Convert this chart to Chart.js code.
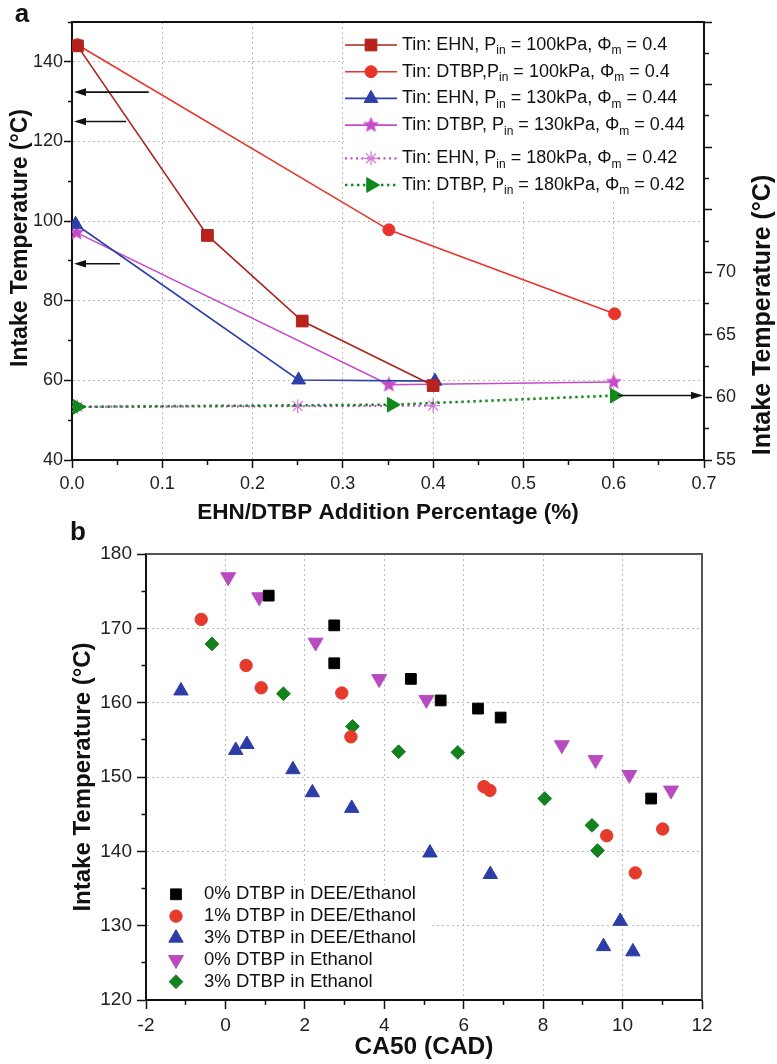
<!DOCTYPE html>
<html>
<head>
<meta charset="utf-8">
<title>Intake temperature</title>
<script src="https://cdn.jsdelivr.net/npm/chart.js@4.4.1/dist/chart.umd.min.js"></script>
<style>
  body { margin: 0; background: #fff; }
  canvas { position: absolute; left: 0; }
  #chartA { top: 0; }
  #chartB { top: 510px; }
</style>
</head>
<body>
<canvas id="chartA" width="777" height="530"></canvas>
<canvas id="chartB" width="777" height="554"></canvas>
<script>
// ---- panel a: intake temperature vs. additive percentage ----
const ehn100X = [0.006, 0.15, 0.255, 0.4];
const ehn100Y = [144, 96.4, 74.9, 58.7];
const dtbp100X = [0.006, 0.351, 0.601];
const dtbp100Y = [144.3, 97.8, 76.7];
const ehn130X = [0.004, 0.251, 0.402];
const ehn130Y = [99.2, 60.1, 59.8];
const dtbp130X = [0.005, 0.351, 0.6];
const dtbp130Y = [97.1, 58.9, 59.6];
// the 180 kPa series are read on the right axis
const ehn180X = [0.006, 0.25, 0.4];
const ehn180Y = [59.25, 59.3, 59.35];
const dtbp180X = [0.006, 0.354, 0.601];
const dtbp180Y = [59.25, 59.42, 60.15];

const legendA = [
  'Tin: EHN, P_{in} = 100kPa, Φ_{m} = 0.4',
  'Tin: DTBP,P_{in} = 100kPa, Φ_{m} = 0.4',
  'Tin: EHN, P_{in} = 130kPa, Φ_{m} = 0.44',
  'Tin: DTBP, P_{in} = 130kPa, Φ_{m} = 0.44',
  'Tin: EHN, P_{in} = 180kPa, Φ_{m} = 0.42',
  'Tin: DTBP, P_{in} = 180kPa, Φ_{m} = 0.42',
];

// arrows pointing at the axes (value on the axis, x where the tail starts)
const arrowsLeftY = [132.4, 125, 89.3];
const arrowsLeftTail = [0.085, 0.06, 0.053];
const arrowsRightY = [60.15];
const arrowsRightTail = [0.605];

// ---- panel b: intake temperature vs. CA50 ----
const dee0X = [1.09, 2.74, 2.74, 4.67, 5.42, 6.36, 6.93, 10.72];
const dee0Y = [174.4, 170.4, 165.3, 163.2, 160.3, 159.2, 158.0, 147.1];
const dee1X = [-0.61, 0.52, 0.90, 2.93, 3.16, 6.51, 6.66, 9.60, 11.01, 10.32];
const dee1Y = [171.2, 165.0, 162.0, 161.3, 155.4, 148.7, 148.2, 142.1, 143.0, 137.1];
const dee3X = [-1.12, 0.26, 0.54, 1.70, 2.19, 3.18, 5.15, 6.67, 9.94, 9.52, 10.26];
const dee3Y = [161.6, 153.6, 154.4, 151.0, 147.9, 145.8, 139.8, 136.9, 130.6, 127.2, 126.5];
const eth0X = [0.07, 0.85, 2.27, 3.87, 5.06, 8.47, 9.32, 10.17, 11.22];
const eth0Y = [176.9, 174.2, 168.1, 163.2, 160.4, 154.3, 152.3, 150.3, 148.2];
const eth3X = [-0.34, 1.46, 3.2, 4.36, 5.85, 8.04, 9.23, 9.37];
const eth3Y = [167.9, 161.2, 156.8, 153.4, 153.3, 147.1, 143.5, 140.1];

const legendB = [
  '0% DTBP in DEE/Ethanol',
  '1% DTBP in DEE/Ethanol',
  '3% DTBP in DEE/Ethanol',
  '0% DTBP in Ethanol',
  '3% DTBP in Ethanol',
];

const FONT = "'Liberation Sans', Arial, sans-serif";
const GRID = '#b8b8b8';
Chart.defaults.font.family = FONT;
Chart.defaults.color = '#222';
Chart.defaults.animation = false;

const pts = (xs, ys) => xs.map((x, i) => ({ x, y: ys[i] }));

// filled five point star used as a point image
function makeStar(size, color) {
  const c = document.createElement('canvas');
  c.width = c.height = size;
  const g = c.getContext('2d');
  const r = size / 2, ri = r * 0.45;
  g.beginPath();
  for (let i = 0; i < 10; i++) {
    const a = -Math.PI / 2 + i * Math.PI / 5;
    const rr = i % 2 ? ri : r;
    g.lineTo(r + rr * Math.cos(a), r + rr * Math.sin(a));
  }
  g.closePath();
  g.fillStyle = color;
  g.fill();
  return c;
}

// text with _{..} subscripts
function drawRichText(ctx, str, x, y, size) {
  const parts = str.split(/_\{([^}]*)\}/);
  parts.forEach((p, i) => {
    const sub = i % 2 === 1;
    ctx.font = (sub ? Math.round(size * 0.64) : size) + 'px ' + FONT;
    ctx.fillText(p, x, sub ? y + size * 0.34 : y);
    x += ctx.measureText(p).width;
  });
}

function drawTitle(ctx, text, x, y, rotate, size) {
  ctx.save();
  ctx.translate(x, y);
  if (rotate) ctx.rotate(-Math.PI / 2);
  ctx.font = 'bold ' + (size || 22) + 'px ' + FONT;
  ctx.fillStyle = '#111';
  ctx.textAlign = 'center';
  ctx.textBaseline = 'middle';
  ctx.fillText(text, 0, 0);
  ctx.restore();
}

function drawMarker(ctx, ds, x, y) {
  ctx.save();
  ctx.fillStyle = ds.pointBackgroundColor || ds.backgroundColor;
  ctx.strokeStyle = ds.pointBorderColor || ds.borderColor;
  ctx.lineWidth = ds.pointBorderWidth || 1;
  Chart.helpers.drawPoint(ctx, {
    pointStyle: ds.pointStyle,
    rotation: ds.pointRotation || 0,
    radius: ds.pointRadius,
    borderWidth: ds.pointBorderWidth || 1,
  }, x, y);
  ctx.restore();
}

function drawArrow(ctx, x0, x1, y) {
  const dir = Math.sign(x1 - x0);
  ctx.save();
  ctx.strokeStyle = '#111';
  ctx.fillStyle = '#111';
  ctx.lineWidth = 1.6;
  ctx.beginPath();
  ctx.moveTo(x0, y);
  ctx.lineTo(x1 - dir * 8, y);
  ctx.stroke();
  ctx.beginPath();
  ctx.moveTo(x1, y);
  ctx.lineTo(x1 - dir * 12, y - 3.8);
  ctx.lineTo(x1 - dir * 12, y + 3.8);
  ctx.closePath();
  ctx.fill();
  ctx.restore();
}

// minor ticks get half length through a dash pattern
const minorDashFromAxis = [4, 40];
const minorDashToAxis = [0, 4, 4, 40];

// ---------------- chart a ----------------
const magenta = '#c64bca';
const starImg = makeStar(17, magenta);

const panelA = {
  id: 'panelA',
  beforeDatasetsDraw(chart) {
    const { ctx, chartArea: a } = chart;
    // legend sits on a white box over the grid
    ctx.save();
    ctx.fillStyle = '#fff';
    ctx.fillRect(a.right - 360, a.top + 1, 358, 177);
    ctx.restore();
  },
  afterDatasetsDraw(chart) {
    const { ctx, chartArea: a, scales } = chart;
    const xs = scales.x;

    arrowsLeftY.forEach((v, i) => {
      drawArrow(ctx, xs.getPixelForValue(arrowsLeftTail[i]), xs.getPixelForValue(0) + 2, scales.y.getPixelForValue(v));
    });
    arrowsRightY.forEach((v, i) => {
      drawArrow(ctx, xs.getPixelForValue(arrowsRightTail[i]), xs.getPixelForValue(0.7) - 1, scales.y2.getPixelForValue(v));
    });

    // legend
    ctx.save();
    ctx.textBaseline = 'middle';
    ctx.fillStyle = '#111';
    legendA.forEach((label, i) => {
      const ds = chart.data.datasets[i];
      const y = a.top + 23 + i * 26.7 + (i >= 4 ? 6.5 : 0);
      ctx.save();
      ctx.strokeStyle = ds.borderColor;
      ctx.lineWidth = ds.borderWidth;
      ctx.setLineDash(ds.borderDash || []);
      ctx.beginPath();
      ctx.moveTo(a.right - 359, y);
      ctx.lineTo(a.right - 307, y);
      ctx.stroke();
      ctx.restore();
      drawMarker(ctx, ds, a.right - 333, y);
      ctx.fillStyle = '#111';
      drawRichText(ctx, label, a.right - 302, y, 18);
    });
    ctx.restore();
  },
  afterDraw(chart) {
    const { ctx, chartArea: a } = chart;
    ctx.save();
    ctx.strokeStyle = '#111';
    ctx.lineWidth = 2;
    ctx.beginPath();
    ctx.moveTo(a.left, a.top);
    ctx.lineTo(a.right, a.top);
    ctx.stroke();
    ctx.restore();

    drawTitle(ctx, 'Intake Temperature (°C)', a.left - 51, (a.top + a.bottom) / 2 - 3, true, 23);
    drawTitle(ctx, 'Intake Temperature (°C)', a.right + 59, a.top + 293, true, 25);
    drawTitle(ctx, 'EHN/DTBP Addition Percentage (%)', (a.left + a.right) / 2, a.bottom + 53, false, 22.5);
    drawTitle(ctx, 'a', 22, 15, false, 26);
  },
};

function lineSet(xs, ys, color, extra) {
  return Object.assign({
    data: pts(xs, ys),
    borderColor: color,
    backgroundColor: color,
    pointBackgroundColor: color,
    pointBorderColor: color,
    borderWidth: 1.6,
    pointBorderWidth: 1,
    tension: 0,
    fill: false,
    yAxisID: 'y',
  }, extra);
}

new Chart(document.getElementById('chartA'), {
  type: 'line',
  data: {
    datasets: [
      lineSet(ehn100X, ehn100Y, '#a9261e', { pointStyle: 'rect', pointRadius: 8.3, pointBackgroundColor: '#b8221c' }),
      lineSet(dtbp100X, dtbp100Y, '#e8342a', { pointStyle: 'circle', pointRadius: 6 }),
      lineSet(ehn130X, ehn130Y, '#2d3fa9', { pointStyle: 'triangle', pointRadius: 8 }),
      lineSet(dtbp130X, dtbp130Y, magenta, { pointStyle: starImg, pointRadius: 8 }),
      lineSet(ehn180X, ehn180Y, magenta, {
        pointStyle: 'star', pointRadius: 7, pointBorderWidth: 1.3, pointBorderColor: '#d57fda',
        borderDash: [2, 3.5], borderWidth: 2.2, yAxisID: 'y2', order: 2,
      }),
      lineSet(dtbp180X, dtbp180Y, '#12881c', {
        pointStyle: 'triangle', pointRotation: 90, pointRadius: 8.5,
        borderDash: [2.4, 3.6], borderWidth: 2.6, yAxisID: 'y2', order: 1,
      }),
    ],
  },
  options: {
    responsive: false,
    devicePixelRatio: 1,
    layout: { padding: { top: 22, left: 0, right: 0, bottom: 0 } },
    plugins: { legend: { display: false }, tooltip: { enabled: false } },
    scales: {
      x: {
        type: 'linear',
        min: 0,
        max: 0.7,
        afterFit: (s) => { s.height = 70; },
        ticks: {
          stepSize: 0.05,
          autoSkip: false,
          maxRotation: 0,
          padding: 5,
          font: { size: 18 },
          callback: (v) => (Math.round(v * 20) % 2 === 0 ? v.toFixed(1) : ''),
        },
        grid: {
          color: (c) => {
            const k = c.tick ? Math.round(c.tick.value * 20) : -1;
            return k % 2 === 0 && k > 0 && k < 14 ? GRID : 'transparent';
          },
          tickColor: '#111',
          tickLength: 8,
          tickWidth: 1.5,
          tickBorderDash: (c) => (c.tick && Math.round(c.tick.value * 20) % 2 ? minorDashFromAxis : []),
        },
        border: { color: '#111', width: 2, dash: [2, 3] },
      },
      y: {
        position: 'left',
        min: 40,
        max: 150,
        afterFit: (s) => { s.width = 72; },
        ticks: {
          stepSize: 10,
          autoSkip: false,
          padding: 1,
          font: { size: 18 },
          callback: (v) => (v % 20 === 0 && v <= 140 ? v : ''),
        },
        grid: {
          color: (c) => (c.tick && c.tick.value % 20 === 0 && c.tick.value > 40 && c.tick.value < 150 ? GRID : 'transparent'),
          tickColor: '#111',
          tickLength: 8,
          tickWidth: 1.5,
          tickBorderDash: (c) => (c.tick && c.tick.value % 20 !== 0 ? minorDashToAxis : []),
        },
        border: { color: '#111', width: 2, dash: [2, 3] },
      },
      y2: {
        position: 'right',
        min: 55,
        max: 90,
        afterFit: (s) => { s.width = 73; },
        ticks: {
          stepSize: 2.5,
          autoSkip: false,
          padding: 4,
          font: { size: 18 },
          callback: (v) => (v % 5 === 0 && v <= 70 ? v : ''),
        },
        grid: {
          drawOnChartArea: false,
          tickColor: '#111',
          tickLength: 8,
          tickWidth: 1.5,
          tickBorderDash: (c) => (c.tick && c.tick.value % 5 !== 0 ? minorDashFromAxis : []),
        },
        border: { color: '#111', width: 2 },
      },
    },
  },
  plugins: [panelA],
});

// ---------------- chart b ----------------
const panelB = {
  id: 'panelB',
  beforeDatasetsDraw(chart) {
    const { ctx, chartArea: a } = chart;
    ctx.save();
    ctx.fillStyle = '#fff';
    ctx.fillRect(a.left + 3, a.bottom - 115, 280, 112);
    ctx.restore();
  },
  afterDatasetsDraw(chart) {
    const { ctx, chartArea: a } = chart;
    ctx.save();
    ctx.textBaseline = 'middle';
    legendB.forEach((label, i) => {
      const ds = chart.data.datasets[i];
      const y = a.bottom - 105.7 + i * 21.85;
      drawMarker(ctx, ds, a.left + 30, y);
      ctx.fillStyle = '#111';
      ctx.font = '18.5px ' + FONT;
      ctx.fillText(label, a.left + 58, y);
    });
    ctx.restore();
  },
  afterDraw(chart) {
    const { ctx, chartArea: a } = chart;
    ctx.save();
    ctx.strokeStyle = '#555';
    ctx.lineWidth = 2;
    ctx.beginPath();
    ctx.moveTo(a.left, a.top);
    ctx.lineTo(a.right, a.top);
    ctx.lineTo(a.right, a.bottom);
    ctx.stroke();
    ctx.restore();

    drawTitle(ctx, 'Intake Temperature (°C)', a.left - 63, (a.top + a.bottom) / 2, true, 24);
    drawTitle(ctx, 'CA50 (CAD)', (a.left + a.right) / 2, a.bottom + 47, false, 24.5);
    drawTitle(ctx, 'b', a.left - 68, a.top - 21, false, 26);
  },
};

function scatterSet(xs, ys, color, style, radius, rotation) {
  return {
    data: pts(xs, ys),
    backgroundColor: color,
    borderColor: color,
    pointStyle: style,
    pointRadius: radius,
    pointRotation: rotation || 0,
    pointBorderWidth: 1,
  };
}

new Chart(document.getElementById('chartB'), {
  type: 'scatter',
  data: {
    datasets: [
      scatterSet(dee0X, dee0Y, '#000000', 'rect', 7.6),
      scatterSet(dee1X, dee1Y, '#e53a2c', 'circle', 6.2),
      scatterSet(dee3X, dee3Y, '#2d3da6', 'triangle', 8.3),
      scatterSet(eth0X, eth0Y, '#b94bc0', 'triangle', 8.6, 180),
      scatterSet(eth3X, eth3Y, '#13821c', 'rectRot', 6.9),
    ],
  },
  options: {
    responsive: false,
    devicePixelRatio: 1,
    layout: { padding: { top: 44, left: 0, right: 75, bottom: 0 } },
    plugins: { legend: { display: false }, tooltip: { enabled: false } },
    scales: {
      x: {
        type: 'linear',
        min: -2,
        max: 12,
        afterFit: (s) => { s.height = 64; },
        ticks: {
          stepSize: 1,
          autoSkip: false,
          maxRotation: 0,
          padding: 5,
          font: { size: 19 },
          callback: (v) => (v % 2 === 0 ? v : ''),
        },
        grid: {
          color: (c) => (c.tick && c.tick.value % 2 === 0 && c.tick.value > -2 && c.tick.value < 12 ? GRID : 'transparent'),
          tickColor: '#111',
          tickLength: 9,
          tickWidth: 1.5,
          tickBorderDash: (c) => (c.tick && c.tick.value % 2 !== 0 ? minorDashFromAxis : []),
        },
        border: { color: '#111', width: 2, dash: [2, 3] },
      },
      y: {
        min: 120,
        max: 180,
        afterFit: (s) => { s.width = 146; },
        ticks: {
          stepSize: 5,
          autoSkip: false,
          padding: 5,
          font: { size: 19 },
          callback: (v) => (v % 10 === 0 ? v : ''),
        },
        grid: {
          color: (c) => (c.tick && c.tick.value % 10 === 0 && c.tick.value > 120 && c.tick.value < 180 ? GRID : 'transparent'),
          tickColor: '#111',
          tickLength: 9,
          tickWidth: 1.5,
          tickBorderDash: (c) => (c.tick && c.tick.value % 10 !== 0 ? [0, 4.5, 4.5, 40] : []),
        },
        border: { color: '#111', width: 2, dash: [2, 3] },
      },
    },
  },
  plugins: [panelB],
});
</script>
</body>
</html>
